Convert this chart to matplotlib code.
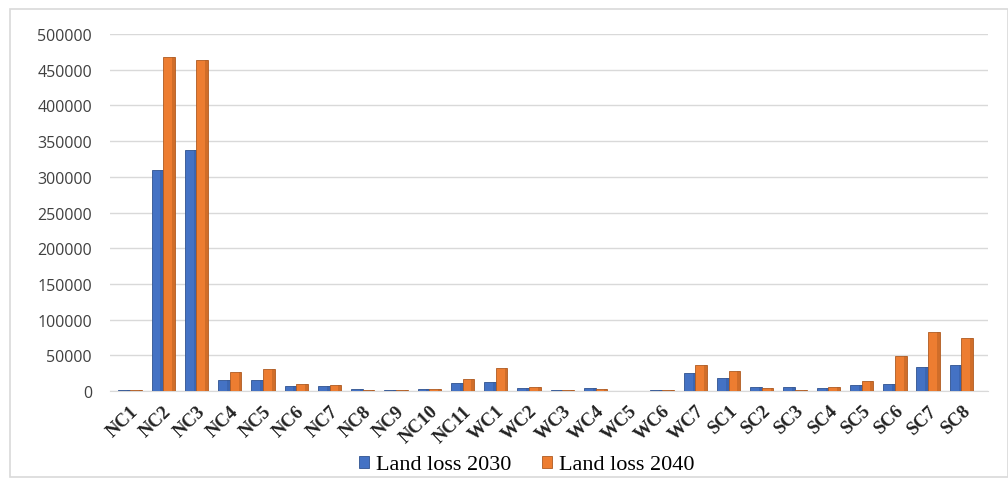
import matplotlib
matplotlib.use("Agg")
import matplotlib.pyplot as plt
import numpy as np
from matplotlib.patches import Rectangle

categories = ["NC1", "NC2", "NC3", "NC4", "NC5", "NC6", "NC7", "NC8", "NC9", "NC10", "NC11",
              "WC1", "WC2", "WC3", "WC4", "WC5", "WC6", "WC7",
              "SC1", "SC2", "SC3", "SC4", "SC5", "SC6", "SC7", "SC8"]
loss_2030 = [1000, 310000, 337000, 15000, 16000, 7000, 7000, 3000, 1500, 3000, 11000,
             12000, 4000, 1500, 4000, 500, 1000, 25500,
             18500, 5000, 5000, 4500, 8000, 10500, 33500, 36000]
loss_2040 = [2000, 468000, 464000, 27000, 31000, 10000, 9000, 2000, 1500, 3000, 17000,
             32500, 6000, 1500, 3000, 500, 1500, 36000,
             27500, 4000, 2000, 6000, 13500, 48500, 82000, 74500]
yticks = [0, 50000, 100000, 150000, 200000, 250000, 300000, 350000, 400000, 450000, 500000]
series_names = ["Land loss 2030", "Land loss 2040"]

W, H = 1008, 485
fig = plt.figure(figsize=(W / 100, H / 100), dpi=100)
ax = fig.add_axes([110 / W, 1 - 392 / H, (988 - 110) / W, (392 - 35) / H])

x = np.arange(len(categories))
bw = 0.35
c1, c1d = "#4472C4", "#2F528F"
c2, c2d = "#ED7D31", "#AE5A21"
b1 = ax.bar(x - bw / 2, loss_2030, bw, color=c1, edgecolor=c1d, linewidth=0.6, label=series_names[0], zorder=3)
b2 = ax.bar(x + bw / 2, loss_2040, bw, color=c2, edgecolor=c2d, linewidth=0.6, label=series_names[1], zorder=3)
# darker right side for a slight 3D look
ax.bar(x - bw / 2 + bw * 0.38, loss_2030, bw * 0.24, color=c1d, alpha=0.35, linewidth=0, zorder=4)
ax.bar(x + bw / 2 + bw * 0.38, loss_2040, bw * 0.24, color=c2d, alpha=0.45, linewidth=0, zorder=4)

ax.set_xlim(-0.6, len(categories) - 0.2)
ax.set_ylim(0, 500000)
ax.set_yticks(yticks)
ax.set_yticklabels([str(v) for v in yticks], fontsize=11.5, color="#404040", family="Open Sans")
ax.yaxis.grid(True, color="#D9D9D9", linewidth=1.0, zorder=0)
ax.set_axisbelow(True)
for s in ax.spines.values():
    s.set_visible(False)
ax.spines["bottom"].set_visible(True)
ax.spines["bottom"].set_color("#D9D9D9")
ax.tick_params(axis="y", length=0, pad=13)
ax.tick_params(axis="x", length=0, pad=8)
ax.set_xticks(x)
ax.set_xticklabels(categories, rotation=44, ha="right", rotation_mode="anchor",
                   family="Liberation Serif", fontweight="bold", fontsize=13.5, color="#222222")

leg = fig.legend(handles=[b1, b2], labels=series_names, loc="center",
                 bbox_to_anchor=(527 / W, 1 - 466 / H), ncol=2, frameon=False,
                 prop={"family": "Liberation Serif", "size": 16},
                 handlelength=0.45, handleheight=0.45, handletextpad=0.3, columnspacing=1.4)

fig.patches.append(Rectangle((10 / W, 7 / H), (W - 10) / W, (H - 17) / H, transform=fig.transFigure,
                             fill=False, edgecolor="#D9D9D9", linewidth=1.2))

fig.savefig("out.png", dpi=100)
